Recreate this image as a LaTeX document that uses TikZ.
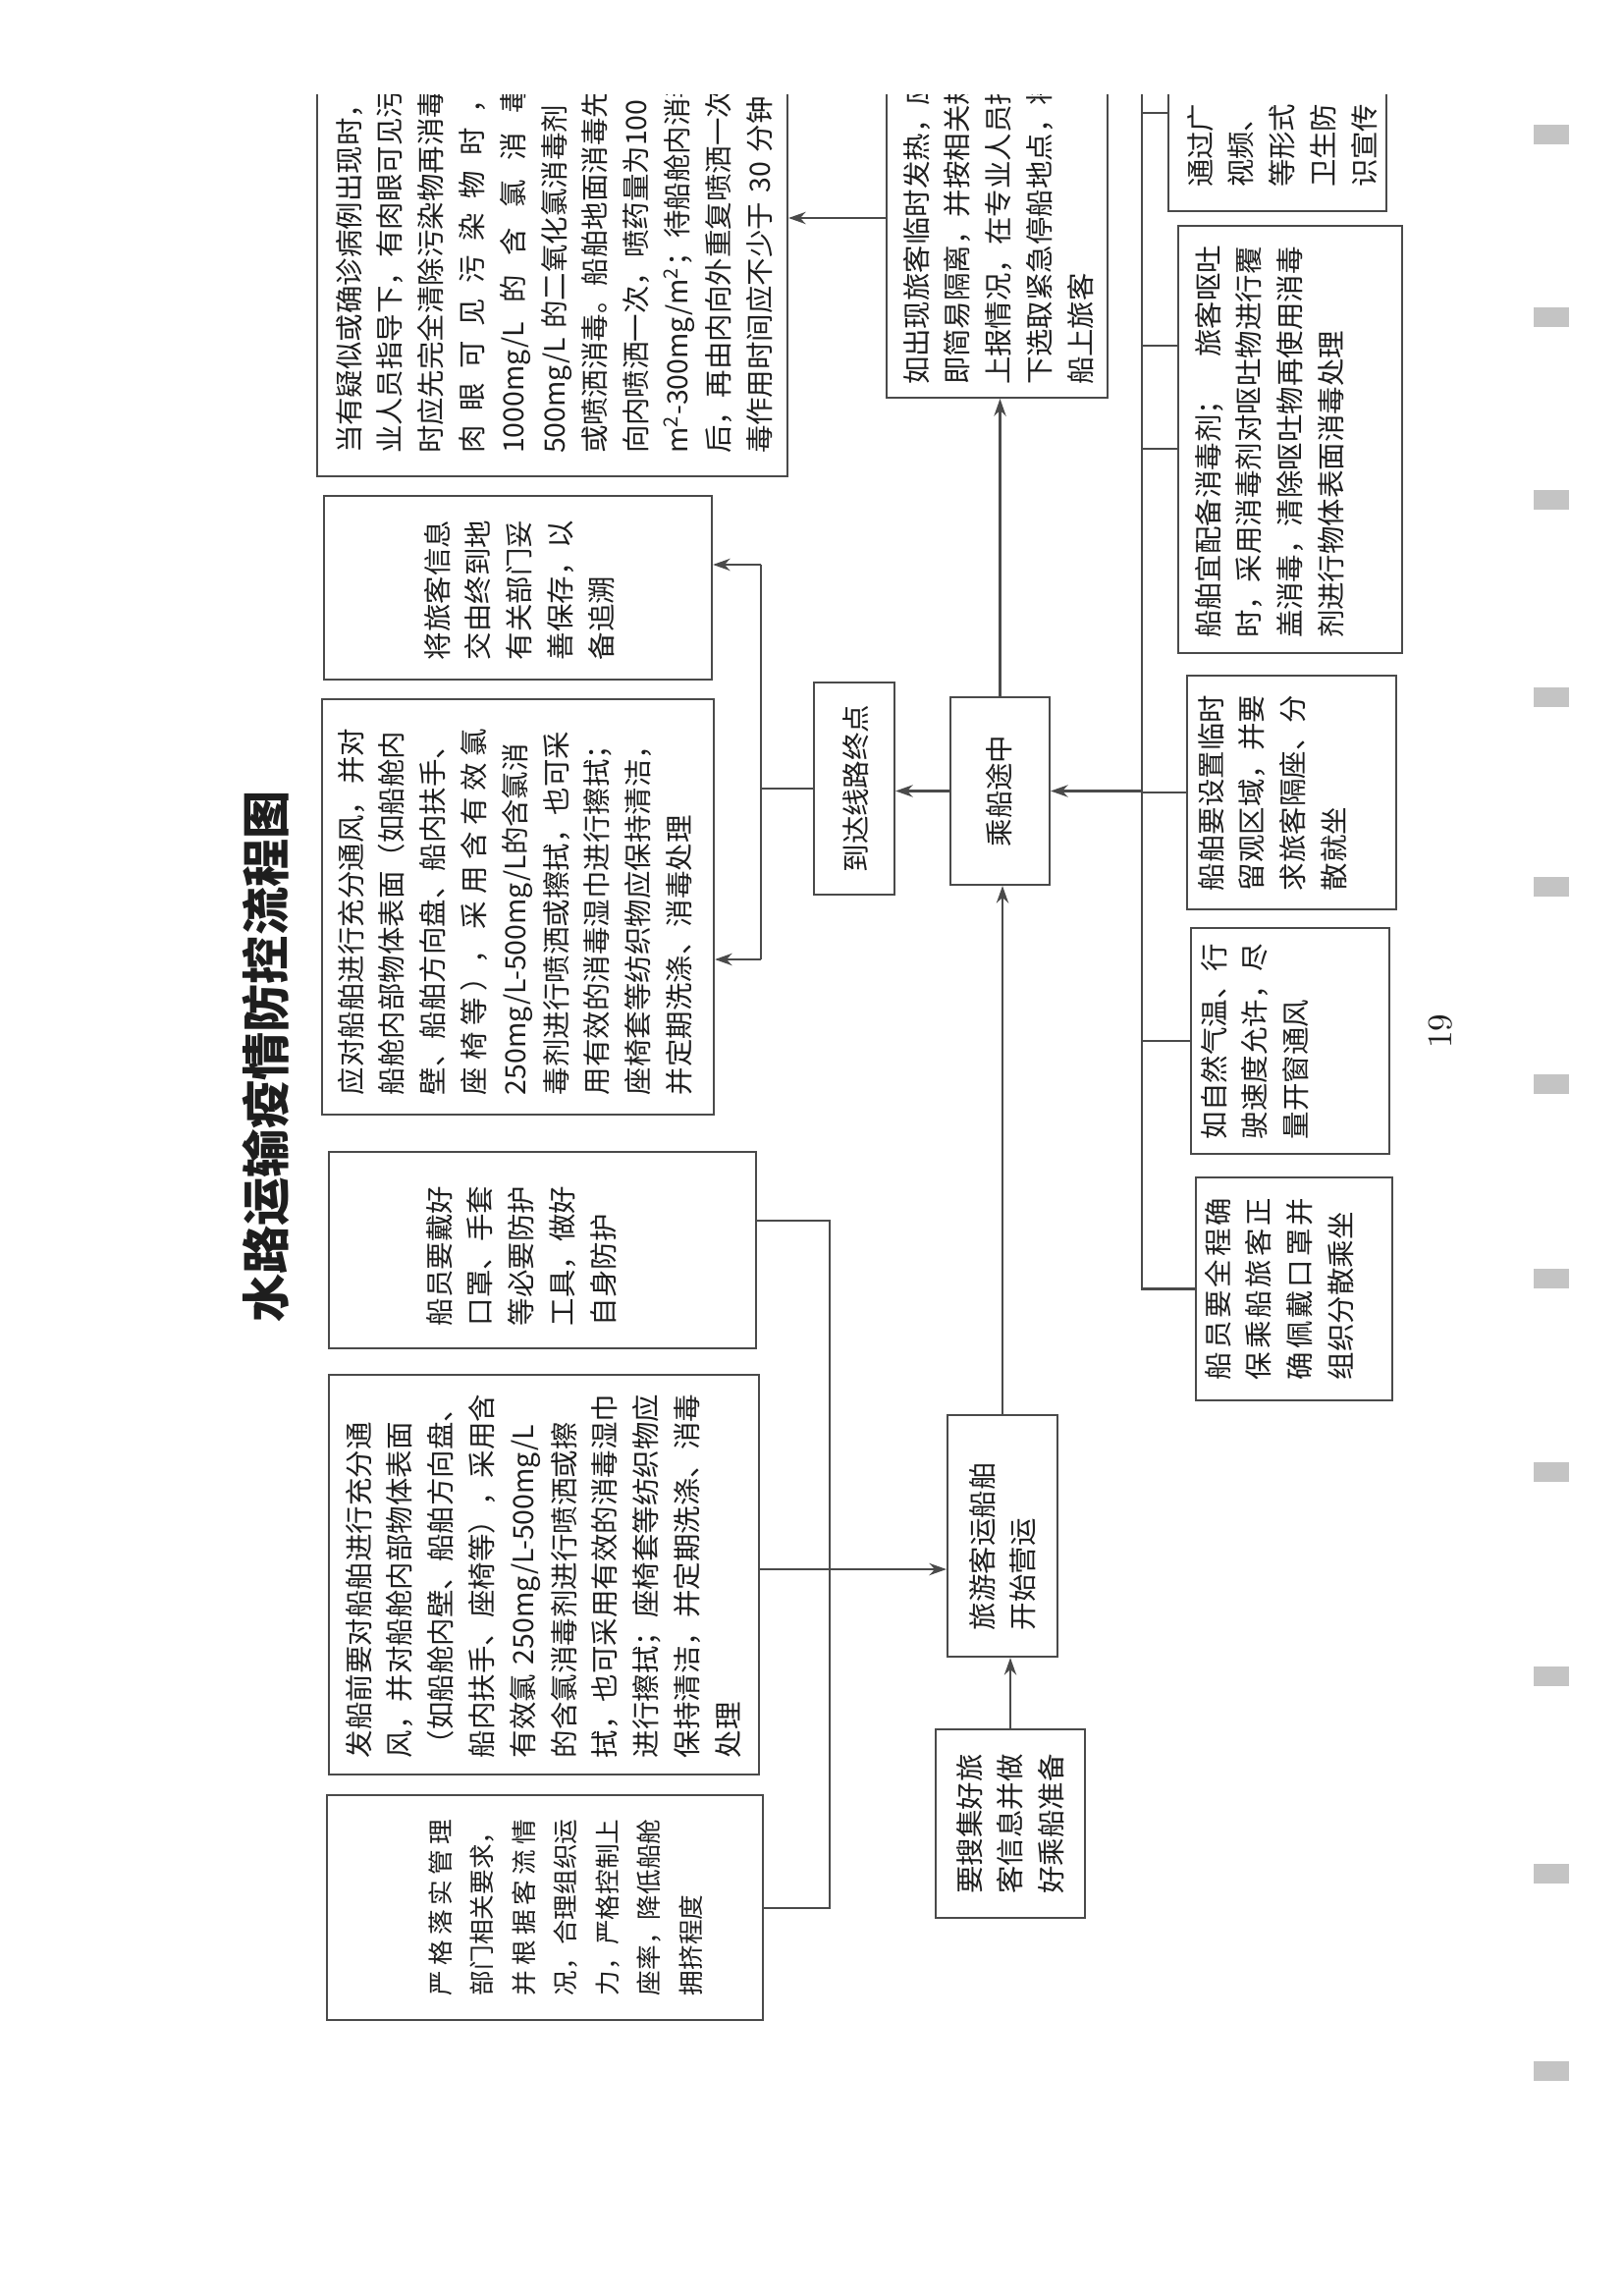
\documentclass[tikz,border=0pt]{standalone}
\usepackage{fontspec}
\usepackage{tikz}
\usetikzlibrary{arrows.meta}
\newfontfamily\cjk{Noto Sans CJK SC}
\definecolor{inkblack}{HTML}{1E1E1E}
\definecolor{linegray}{HTML}{4A4A4A}
\definecolor{scanmark}{HTML}{C4C4C4}
\newcommand\boxfont{\cjk\fontsize{8.1pt}{11.9pt}\selectfont}
\newcommand\smallboxfont{\cjk\fontsize{7.3pt}{12.1pt}\selectfont}
\newcommand\titlefont{\cjk\bfseries\fontsize{14pt}{16pt}\selectfont}
\newcommand\spread[2]{\makebox[#1][s]{\spaceskip=0pt plus 1fil\relax #2}}
\tikzset{
  pbox/.style={draw=linegray,line width=.6pt,rotate=90,align=left,inner ysep=0pt,font=\boxfont,text=inkblack},
  link/.style={draw=linegray,line width=.6pt},
  arr/.style={link,-{Stealth[length=5pt,width=3.5pt]}}
}

\begin{document}
\begin{tikzpicture}
\useasboundingbox (0,0) rectangle (16.53,-23.36);
\fill[white] (0,0) rectangle (16.53,-23.36);
\begin{scope}
\clip (0,-0.97) rectangle (16.53,-23.36);
\node[rotate=90,font=\titlefont,text=inkblack] (title) at (2.71,-10.76) {水路运输疫情防控流程图};
\node[pbox,text width=4.3cm,inner xsep=2.3mm,text height=4.3mm,text depth=43.6mm] (disinfect) at (5.625,-2.47) {当有疑似或确诊病例出现时，\\业人员指导下，有肉眼可见污\\时应先完全清除污染物再消毒\\\spread{3.75cm}{肉 眼 可 见 污 染 物 时 ，}\\\spread{3.75cm}{1000mg/L 的 含 氯 消 毒}\\500mg/L 的二氧化氯消毒剂\\或喷洒消毒。船舶地面消毒先\\向内喷洒一次，喷药量为100\\m\textsuperscript{2}-300mg/m\textsuperscript{2}；待船舱内消毒\\后，再由内向外重复喷洒一次\\毒作用时间应不少于 30 分钟};
\node[pbox,text width=1.47cm,inner xsep=2mm,text height=12.6mm,text depth=26.9mm] (record) at (5.275,-5.985) {将旅客信息\\交由终到地\\有关部门妥\\善保存，以\\备追溯};
\node[pbox,text width=3.83cm,inner xsep=2mm,text height=4mm,text depth=35.9mm] (arrclean) at (5.275,-9.235) {\spread{3.73cm}{应对船舶进行充分通风， 并对}\\船舱内部物体表面（如船舱内\\壁、船舶方向盘、船内扶手、\\\spread{3.73cm}{座 椅 等 ）， 采 用 含 有 效 氯}\\250mg/L-500mg/L的含氯消\\毒剂进行喷洒或擦拭，也可采\\用有效的消毒湿巾进行擦拭；\\座椅套等纺织物应保持清洁，\\并定期洗涤、消毒处理};
\node[pbox,text width=1.54cm,inner xsep=2.3mm,text height=12.3mm,text depth=31.2mm] (crewmask) at (5.525,-12.73) {船员要戴好\\口罩、手套\\等必要防护\\工具，做好\\自身防护};
\node[pbox,text width=3.73cm,inner xsep=1.7mm,text height=4.1mm,text depth=39.7mm] (depclean) at (5.54,-16.035) {发船前要对船舶进行充分通\\风，并对船舱内部物体表面\\（如船舱内壁、船舶方向盘、\\船内扶手、座椅等），采用含\\有效氯 250mg/L-500mg/L\\的含氯消毒剂进行喷洒或擦\\拭，也可采用有效的消毒湿巾\\进行擦拭；座椅套等纺织物应\\保持清洁，并定期洗涤、消毒\\处理};
\node[pbox,font=\smallboxfont,text width=1.79cm,inner xsep=2.5mm,text height=12.5mm,text depth=31.9mm] (crowd) at (5.55,-19.425) {\spread{1.79cm}{严 格 落 实 管 理}\\部门相关要求，\\\spread{1.79cm}{并 根 据 客 流 情}\\况，合理组织运\\力，严格控制上\\座率，降低船舱\\拥挤程度};
\node[pbox,text width=1.43cm,inner xsep=2.45mm,text height=4.5mm,text depth=10.7mm] (collect) at (10.29,-18.57) {要搜集好旅\\客信息并做\\好乘船准备};
\node[pbox,text width=1.92cm,inner xsep=2.7mm,text height=4.6mm,text depth=6.6mm] (start) at (10.21,-15.64) {旅游客运船舶\\开始营运};
\node[pbox,align=center,text width=1.14cm,inner xsep=3.85mm,text height=6mm,text depth=4.1mm] (voyage) at (10.185,-8.055) {乘船途中};
\node[pbox,align=center,text width=1.71cm,inner xsep=2.25mm,text height=5.3mm,text depth=2.9mm] (arrive) at (8.70,-8.03) {到达线路终点};
\node[pbox,text width=4cm,inner xsep=1.3mm,text height=4.1mm,text depth=18.4mm] (fever) at (10.155,-1.92) {如出现旅客临时发热，应\\即简易隔离，并按相关规\\上报情况，在专业人员指\\下选取紧急停船地点，将\\船上旅客};
\node[pbox,text width=3.5cm,inner xsep=2.4mm,text height=4.3mm,text depth=17.9mm] (publicity) at (13.01,-0.16) {通过广\\视频、\\等形式\\卫生防\\识宣传};
\node[pbox,text width=4.05cm,inner xsep=1.5mm,text height=4.1mm,text depth=18.7mm] (vomit) at (13.14,-4.475) {\spread{4cm}{船舶宜配备消毒剂； 旅客呕吐}\\时，采用消毒剂对呕吐物进行覆\\盖消毒，清除呕吐物再使用消毒\\剂进行物体表面消毒处理};
\node[pbox,text width=2cm,inner xsep=1.9mm,text height=3.5mm,text depth=17.8mm] (isolate) at (13.155,-8.07) {船舶要设置临时\\留观区域，并要\\求旅客隔座、分\\散就坐};
\node[pbox,text width=2cm,inner xsep=1.5mm,text height=3.4mm,text depth=16.8mm] (window) at (13.14,-10.60) {如自然气温、行\\驶速度允许，尽\\量开窗通风};
\node[pbox,text width=1.85cm,inner xsep=2.1mm,text height=3.3mm,text depth=16.7mm] (crewall) at (13.18,-13.125) {\spread{1.85cm}{船 员 要 全 程 确}\\\spread{1.85cm}{保 乘 船 旅 客 正}\\\spread{1.85cm}{确 佩 戴 口 罩 并}\\组织分散乘坐};
\node[rotate=90,font=\fontsize{10pt}{12pt}\selectfont,text=inkblack] (pnum) at (14.67,-10.50) {19};
\coordinate (rt) at (7.75,-5.75);
\coordinate (rb) at (7.75,-9.77);
\coordinate (lt) at (8.45,-12.43);
\coordinate (lb) at (8.45,-19.43);
\coordinate (bt) at (11.63,-0.5);
\draw[link] (arrive.north) -- (arrive.north -| rt);
\draw[link] (rt) -- (rb);
\draw[arr] (rt) -- (rt -| record.south);
\draw[arr] (rb) -- (rb -| arrclean.south);
\draw[arr] (voyage.north) -- (voyage.north -| arrive.south);
\draw[arr] (voyage.east) -- (voyage.east |- fever.west);
\draw[arr] (fever.north |- 0,-2.22) -- (disinfect.south |- 0,-2.22);
\draw[arr] (start.east) -- (start.east |- voyage.west);
\draw[arr] (collect.east) -- (collect.east |- start.west);
\draw[link] (crewmask.south |- lt) -- (lt) -- (lb) -- (crowd.south |- lb);
\draw[arr] (depclean.south |- 0,-15.98) -- (start.north |- 0,-15.98);
\draw[link] (bt) |- (crewall.north);
\draw[link] (bt |- window.north) -- (window.north);
\draw[link] (bt |- isolate.north) -- (isolate.north);
\draw[arr] (bt |- voyage.south) -- (voyage.south);
\draw[link] (11.63,-3.52) -- (vomit.north |- 11.63,-3.52);
\draw[link] (11.63,-4.57) -- (vomit.north |- 11.63,-4.57);
\draw[link] (11.63,-1.15) -- (publicity.north |- 11.63,-1.15);
\end{scope}
\foreach \y in {1.27,3.13,4.99,7.0,8.93,10.94,12.92,14.89,16.97,18.98,20.99}
  \fill[scanmark] (15.62,-\y) rectangle ++(0.36,-0.2);
\end{tikzpicture}
\end{document}
